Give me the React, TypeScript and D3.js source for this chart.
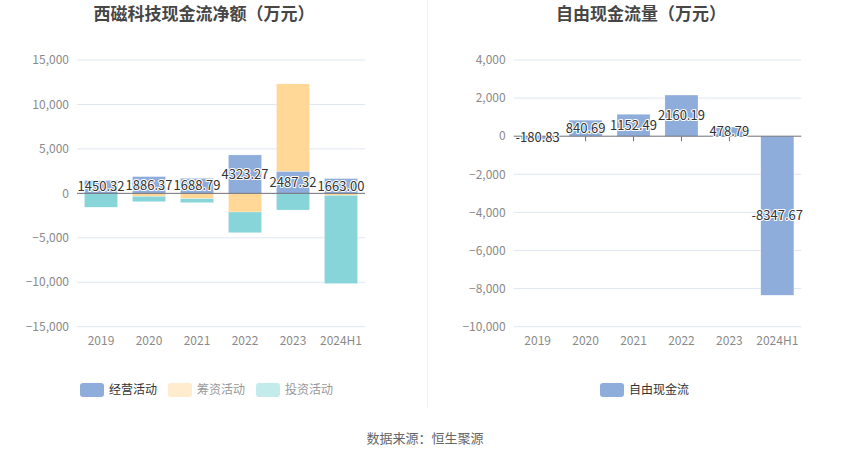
import React from "react";
import * as d3 from "d3";

const categories = ["2019", "2020", "2021", "2022", "2023", "2024H1"];
const operating = [1450.32, 1886.37, 1688.79, 4323.27, 2487.32, 1663.0];
const financing = [0, -340, -600, -2100, 9830, -230];
const investing = [-1560, -600, -450, -2330, -1880, -9920];
const freeCash = [-180.83, 840.69, 1152.49, 2160.19, 478.79, -8347.67];
const leftTicks = [15000, 10000, 5000, 0, -5000, -10000, -15000];
const rightTicks = [4000, 2000, 0, -2000, -4000, -6000, -8000, -10000];

const FONT = "'Noto Sans CJK SC', 'Noto Sans', sans-serif";
const BLUE = "#8EADDB";
const ORANGE = "#FFD797";
const TEAL = "#87D5D8";
const GRID = "#E0E6F1";
const AXIS = "#6E7079";
const LABEL = "#8A8A8A";

const fmt = d3.format(",");

function Axes({ x, y, ticks, left, right, top, bottom }: any) {
  return (
    <g>
      {ticks.map((t: number) => (
        <g key={t}>
          {t !== 0 && <line x1={left} x2={right} y1={y(t)} y2={y(t)} stroke={GRID} strokeWidth={1} />}
          <text x={left - 8} y={y(t)} dy="0.35em" textAnchor="end" fontSize={12} fill={LABEL} fontFamily={FONT}>
            {fmt(t)}
          </text>
        </g>
      ))}
      {categories.map((c) => (
        <text key={c} x={(x(c) as number) + x.bandwidth() / 2} y={bottom + 14} dy="0.35em" textAnchor="middle" fontSize={12} fill={LABEL} fontFamily={FONT}>
          {c}
        </text>
      ))}
    </g>
  );
}

function ZeroTicks({ x, y }: any) {
  return (
    <g>
      {categories.slice(1).map((c) => {
        const cx = (x(c) as number) + x.bandwidth() / 2;
        return <line key={c} x1={cx} x2={cx} y1={y(0)} y2={y(0) + 5} stroke={AXIS} strokeWidth={1} />;
      })}
    </g>
  );
}

function ZeroLine({ y, left, right }: any) {
  return <line x1={left} x2={right} y1={y(0)} y2={y(0)} stroke={AXIS} strokeWidth={1} />;
}

function ValueLabel({ x, y, text }: any) {
  return (
    <text x={x} y={y} dy="0.35em" textAnchor="middle" fontSize={13} fill="#333" fontFamily={FONT}
      stroke="#fff" strokeWidth={2} paintOrder="stroke" strokeLinejoin="round">
      {text}
    </text>
  );
}

function LegendItem({ x, y, color, label, textColor }: any) {
  return (
    <g>
      <rect x={x} y={y - 7} width={24} height={14} rx={3} fill={color} />
      <text x={x + 29} y={y} dy="0.35em" fontSize={12} fill={textColor} fontFamily={FONT}>{label}</text>
    </g>
  );
}

export default function App() {
  // Left chart
  const L = { left: 77, right: 365, top: 60, bottom: 326.7 };
  const xL = d3.scaleBand<string>().domain(categories).range([L.left, L.right]).paddingInner(0.31).paddingOuter(0.155);
  const yL = d3.scaleLinear().domain([-15000, 15000]).range([L.bottom, L.top]);
  const rows = categories.map((c, i) => ({ cat: c, op: operating[i], fin: financing[i], inv: investing[i] }));
  const stacked = d3.stack<any>().keys(["op", "fin", "inv"]).offset(d3.stackOffsetDiverging)(rows);
  const colors: Record<string, string> = { op: BLUE, fin: ORANGE, inv: TEAL };

  // Right chart
  const R = { left: 513.7, right: 801.3, top: 60, bottom: 326.7 };
  const xR = d3.scaleBand<string>().domain(categories).range([R.left, R.right]).paddingInner(0.31).paddingOuter(0.155);
  const yR = d3.scaleLinear().domain([-10000, 4000]).range([R.bottom, R.top]);

  return (
    <svg width={850} height={459} style={{ position: "absolute", left: 0, top: 0, background: "#fff" }}>
      <rect width={850} height={459} fill="#fff" />
      <text x={204} y={14} dy="0.35em" textAnchor="middle" fontSize={17} fontWeight="bold" fill="#464646" fontFamily={FONT}>
        西磁科技现金流净额（万元）
      </text>
      <text x={641} y={14} dy="0.35em" textAnchor="middle" fontSize={17} fontWeight="bold" fill="#464646" fontFamily={FONT}>
        自由现金流量（万元）
      </text>
      <line x1={427.5} x2={427.5} y1={0} y2={408} stroke="#EFEFEF" strokeWidth={1} />

      {/* Left chart */}
      <Axes x={xL} y={yL} ticks={leftTicks} {...L} />
      <ZeroTicks x={xL} y={yL} />
      {stacked.map((s) => (
        <g key={s.key}>
          {s.map((d: any, i: number) => {
            const y0 = yL(d[0]);
            const y1 = yL(d[1]);
            const h = Math.abs(y0 - y1);
            if (h === 0) return null;
            return (
              <rect key={i} x={xL(categories[i])} y={Math.min(y0, y1)} width={xL.bandwidth()} height={h}
                fill={colors[s.key]} stroke="#fff" strokeOpacity={0.5} strokeWidth={0.5} />
            );
          })}
        </g>
      ))}
      <ZeroLine y={yL} left={L.left} right={L.right} />
      {stacked[0].map((d: any, i: number) => (
        <ValueLabel key={i} x={(xL(categories[i]) as number) + xL.bandwidth() / 2} y={(yL(d[0]) + yL(d[1])) / 2} text={operating[i].toFixed(2)} />
      ))}

      {/* Right chart */}
      <Axes x={xR} y={yR} ticks={rightTicks} {...R} />
      <ZeroTicks x={xR} y={yR} />
      {freeCash.map((v, i) => (
        <rect key={i} x={xR(categories[i])} y={Math.min(yR(0), yR(v))} width={xR.bandwidth()} height={Math.abs(yR(v) - yR(0))}
          fill={BLUE} stroke="#fff" strokeOpacity={0.5} strokeWidth={0.5} />
      ))}
      <ZeroLine y={yR} left={R.left} right={R.right} />
      {freeCash.map((v, i) => (
        <ValueLabel key={i} x={(xR(categories[i]) as number) + xR.bandwidth() / 2} y={(yR(0) + yR(v)) / 2} text={v.toFixed(2)} />
      ))}

      {/* Legends */}
      <LegendItem x={80} y={390} color={BLUE} label="经营活动" textColor="#333" />
      <LegendItem x={168} y={390} color="#FFEBCD" label="筹资活动" textColor="#999" />
      <LegendItem x={256} y={390} color="#C3EBEB" label="投资活动" textColor="#999" />
      <LegendItem x={600} y={390} color={BLUE} label="自由现金流" textColor="#333" />

      <text x={425} y={438} dy="0.35em" textAnchor="middle" fontSize={13} fill="#666" fontFamily={FONT}>
        数据来源：恒生聚源
      </text>
    </svg>
  );
}
